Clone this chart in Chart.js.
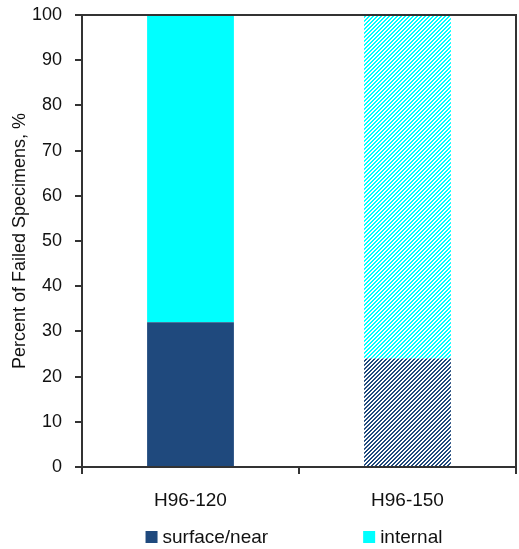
<!DOCTYPE html>
<html>
<head>
<meta charset="utf-8">
<script src="https://cdn.jsdelivr.net/npm/chart.js@4"></script>
<style>
  html, body { margin: 0; padding: 0; background: #fff; }
  #wrap { width: 519px; height: 549px; }
</style>
</head>
<body>
<div id="wrap"><canvas id="c" width="519" height="549"></canvas></div>
<script>
// ---- data ----
const categories = ['H96-120', 'H96-150'];
const surfaceNear = [32, 24];
const internal = [68, 76];
const seriesLabels = ['surface/near', 'internal'];
const yTicks = [0, 10, 20, 30, 40, 50, 60, 70, 80, 90, 100];

const navy = '#1F497D';
const cyan = '#00FFFF';
const axisColor = '#333333';
const textColor = '#111111';
const fontFamily = '"Liberation Sans", Arial, sans-serif';

function hatch(color) {
  const s = 4;
  const cv = document.createElement('canvas');
  cv.width = s; cv.height = s;
  const g = cv.getContext('2d');
  for (let y = 0; y < s; y++) {
    for (let x = 0; x < s; x++) {
      g.fillStyle = ((x + y) % 4) < 2 ? color : '#ffffff';
      g.fillRect(x, y, 1, 1);
    }
  }
  return g.createPattern(cv, 'repeat');
}

const boxPlugin = {
  id: 'boxPlugin',
  afterDraw(chart) {
    const { ctx, chartArea: a } = chart;
    ctx.save();
    ctx.strokeStyle = axisColor;
    ctx.lineWidth = 2;
    ctx.beginPath();
    ctx.moveTo(a.left, a.top);
    ctx.lineTo(a.right, a.top);
    ctx.lineTo(a.right, a.bottom);
    ctx.stroke();
    ctx.restore();
  }
};

const legendPlugin = {
  id: 'customLegend',
  afterDraw(chart) {
    const { ctx, chartArea: a } = chart;
    const items = chart.data.datasets.map(d => ({ label: d.label, color: d.legendColor }));
    ctx.save();
    ctx.font = '19px ' + fontFamily;
    ctx.textBaseline = 'middle';
    const box = 12, gapText = 5, gapItem = 95;
    const widths = items.map(it => box + gapText + ctx.measureText(it.label).width);
    const total = widths.reduce((s, w) => s + w, 0) + gapItem * (items.length - 1);
    let x = (a.left + a.right) / 2 - 5 - total / 2;
    const y = 537;
    items.forEach((it, i) => {
      ctx.fillStyle = it.color;
      ctx.fillRect(x, y - box / 2, box, box);
      ctx.fillStyle = textColor;
      ctx.fillText(it.label, x + box + gapText, y + 1);
      x += widths[i] + gapItem;
    });
    ctx.restore();
  }
};

new Chart(document.getElementById('c'), {
  type: 'bar',
  data: {
    labels: categories,
    datasets: [
      {
        label: seriesLabels[0],
        data: surfaceNear,
        backgroundColor: [navy, hatch(navy)],
        legendColor: navy,
        borderWidth: 0
      },
      {
        label: seriesLabels[1],
        data: internal,
        backgroundColor: [cyan, hatch(cyan)],
        legendColor: cyan,
        borderWidth: 0
      }
    ]
  },
  options: {
    responsive: false,
    animation: false,
    layout: { padding: { left: 0, right: 3, top: 15, bottom: 0 } },
    datasets: { bar: { categoryPercentage: 0.4, barPercentage: 1.0 } },
    plugins: {
      legend: { display: false },
      tooltip: { enabled: false }
    },
    scales: {
      x: {
        stacked: true,
        afterFit(scale) { scale.height = 82; scale.paddingLeft = 0; scale.paddingRight = 0; },
        grid: {
          offset: true,
          drawOnChartArea: false,
          drawTicks: true,
          tickLength: 7,
          color: axisColor,
          lineWidth: 2
        },
        border: { display: true, color: axisColor, width: 2 },
        ticks: {
          padding: 15,
          color: textColor,
          font: { family: fontFamily, size: 19 }
        }
      },
      y: {
        stacked: true,
        min: 0,
        max: 100,
        afterFit(scale) { scale.width = 82; scale.paddingTop = 0; scale.paddingBottom = 0; },
        afterBuildTicks(scale) { scale.ticks = yTicks.map(v => ({ value: v })); },
        grid: {
          drawOnChartArea: false,
          drawTicks: true,
          tickLength: 7,
          color: axisColor,
          lineWidth: 2
        },
        border: { display: true, color: axisColor, width: 2 },
        ticks: {
          padding: 13,
          color: textColor,
          font: { family: fontFamily, size: 18 }
        },
        title: {
          display: true,
          text: 'Percent of Failed Specimens, %',
          color: textColor,
          font: { family: fontFamily, size: 18 },
          padding: { top: 9, bottom: 0 }
        }
      }
    }
  },
  plugins: [boxPlugin, legendPlugin]
});
</script>
</body>
</html>
